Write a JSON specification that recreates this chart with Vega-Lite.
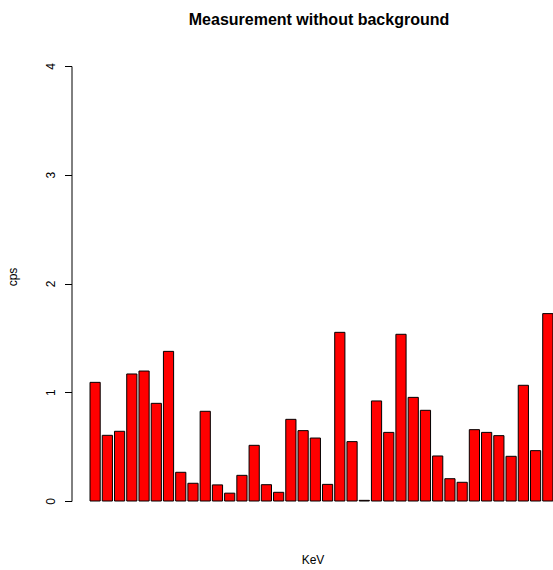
{
  "$schema": "https://vega.github.io/schema/vega-lite/v6.json",
  "autosize": "none",
  "padding": {"left": 71.5, "top": 66, "right": 0, "bottom": 69},
  "width": 482,
  "height": 435,
  "background": "white",
  "config": {
    "font": "Liberation Sans",
    "view": {"stroke": null}
  },
  "title": {
    "text": "Measurement without background",
    "font": "Liberation Sans",
    "fontSize": 16,
    "fontWeight": "bold",
    "color": "black",
    "frame": "group",
    "anchor": "middle",
    "baseline": "alphabetic",
    "offset": 22,
    "dx": 6.5
  },
  "data": {
    "values": [
      {"channel": 1, "cps": 1.091},
      {"channel": 2, "cps": 0.604},
      {"channel": 3, "cps": 0.641},
      {"channel": 4, "cps": 1.168},
      {"channel": 5, "cps": 1.195},
      {"channel": 6, "cps": 0.898},
      {"channel": 7, "cps": 1.376},
      {"channel": 8, "cps": 0.264},
      {"channel": 9, "cps": 0.163},
      {"channel": 10, "cps": 0.825},
      {"channel": 11, "cps": 0.148},
      {"channel": 12, "cps": 0.072},
      {"channel": 13, "cps": 0.236},
      {"channel": 14, "cps": 0.512},
      {"channel": 15, "cps": 0.150},
      {"channel": 16, "cps": 0.080},
      {"channel": 17, "cps": 0.751},
      {"channel": 18, "cps": 0.647},
      {"channel": 19, "cps": 0.579},
      {"channel": 20, "cps": 0.153},
      {"channel": 21, "cps": 1.551},
      {"channel": 22, "cps": 0.546},
      {"channel": 23, "cps": 0.006},
      {"channel": 24, "cps": 0.920},
      {"channel": 25, "cps": 0.631},
      {"channel": 26, "cps": 1.533},
      {"channel": 27, "cps": 0.953},
      {"channel": 28, "cps": 0.834},
      {"channel": 29, "cps": 0.414},
      {"channel": 30, "cps": 0.205},
      {"channel": 31, "cps": 0.172},
      {"channel": 32, "cps": 0.656},
      {"channel": 33, "cps": 0.631},
      {"channel": 34, "cps": 0.601},
      {"channel": 35, "cps": 0.411},
      {"channel": 36, "cps": 1.064},
      {"channel": 37, "cps": 0.463},
      {"channel": 38, "cps": 1.723}
    ]
  },
  "mark": {"type": "bar", "fill": "#ff0000", "stroke": "black", "strokeWidth": 1, "clip": false},
  "encoding": {
    "x": {
      "field": "channel",
      "type": "ordinal",
      "sort": "ascending",
      "scale": {"paddingInner": 0.1667, "paddingOuter": 0.781, "align": 0.969},
      "axis": {
        "title": "KeV",
        "domain": false,
        "ticks": false,
        "labels": false,
        "grid": false,
        "titleFont": "Liberation Sans",
        "titleFontSize": 12,
        "titleFontWeight": "normal",
        "titleColor": "black",
        "titleBaseline": "alphabetic",
        "titleY": 62.5
      }
    },
    "y": {
      "field": "cps",
      "type": "quantitative",
      "scale": {"domain": [0, 4], "nice": false, "zero": true},
      "axis": {
        "title": "cps",
        "values": [0, 1, 2, 3, 4],
        "format": "d",
        "grid": false,
        "domainColor": "black",
        "domainWidth": 1,
        "tickColor": "black",
        "tickSize": 7,
        "tickWidth": 1,
        "labelFont": "Liberation Sans",
        "labelFontSize": 12,
        "labelColor": "black",
        "labelAngle": 270,
        "labelAlign": "center",
        "labelBaseline": "alphabetic",
        "labelPadding": 10,
        "labelOverlap": false,
        "labelFlush": false,
        "titleFont": "Liberation Sans",
        "titleFontSize": 12,
        "titleFontWeight": "normal",
        "titleColor": "black",
        "titleAngle": 270,
        "titleAlign": "center",
        "titleBaseline": "alphabetic",
        "titleX": -55.5,
        "titleY": 210.5
      }
    }
  }
}
